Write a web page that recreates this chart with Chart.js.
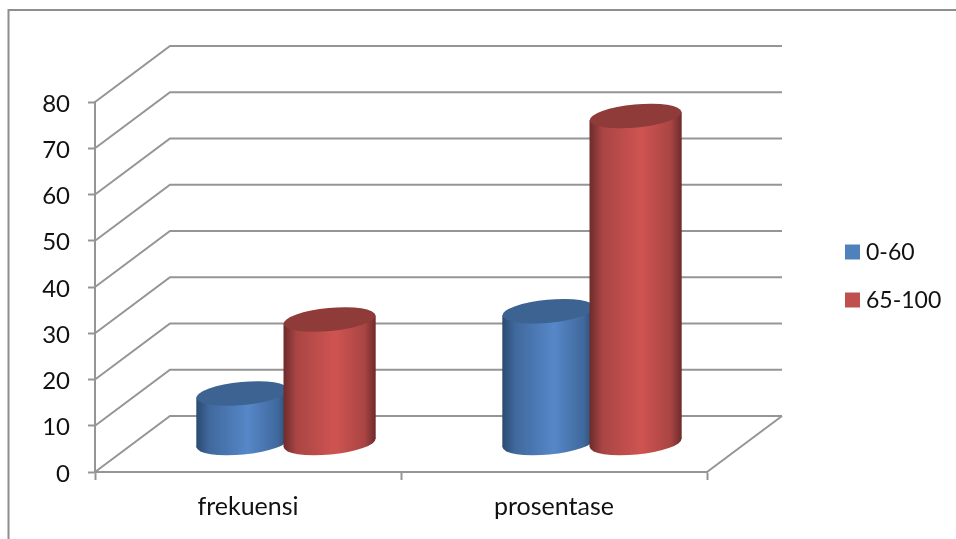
<!DOCTYPE html>
<html><head><meta charset="utf-8">
<style>html,body{margin:0;padding:0;background:#fff;overflow:hidden}canvas{display:block}</style>
<script src="https://cdn.jsdelivr.net/npm/chart.js@4"></script>
</head><body>
<div style="width:956px;height:539px;position:relative"><canvas id="c" width="956" height="539"></canvas></div>
<script>
const categories = ['frekuensi', 'prosentase'];
const seriesNames = ['0-60', '65-100'];
const values0to60 = [10.8, 28.6];
const values65to100 = [26.8, 70.8];
const yTicks = [0, 10, 20, 30, 40, 50, 60, 70, 80];

const FONT = 'Lato, Carlito, sans-serif';
const TXT = '#111111', LINE = '#959595';
const DEPTH = {dx: 75, dy: 56};
const BAR_DEPTH = {dx: 38, dy: 28.5};
const TILT = 5.4 * Math.PI / 180, RATIO = 0.25;
const palettes = [
  {edge:'#2b4a70', mid:'#40699d', hi:'#5687c8', top:'#3c6391', box:'#4f81bd'},
  {edge:'#6d2b2b', mid:'#a94544', hi:'#cf5451', top:'#8e3b39', box:'#c0504d'}
];

function cylinder(ctx, el, p) {
  const cx = el.x + BAR_DEPTH.dx, w = el.width, a = w / 2, b = a * RATIO;
  const yTop = el.y - BAR_DEPTH.dy, yBot = el.base - BAR_DEPTH.dy;
  const off = (a*a - b*b) * Math.sin(TILT) * Math.cos(TILT) / a;
  const g = ctx.createLinearGradient(cx - a, 0, cx + a, 0);
  g.addColorStop(0, p.edge); g.addColorStop(0.14, p.mid); g.addColorStop(0.56, p.hi);
  g.addColorStop(0.88, p.mid); g.addColorStop(1, p.edge);
  ctx.fillStyle = g;
  ctx.beginPath();
  ctx.ellipse(cx, yBot, a, b, -TILT, 0, Math.PI * 2);
  ctx.fill();
  ctx.beginPath();
  ctx.moveTo(cx - a, yTop + off); ctx.lineTo(cx + a, yTop - off);
  ctx.lineTo(cx + a, yBot - off); ctx.lineTo(cx - a, yBot + off);
  ctx.closePath(); ctx.fill();
  ctx.fillStyle = p.top;
  ctx.beginPath();
  ctx.ellipse(cx, yTop, a, b, -TILT, 0, Math.PI * 2);
  ctx.fill();
}

const scene3d = {
  id: 'scene3d',
  beforeDatasetsDraw(chart) {
    const {ctx, scales: {x, y}} = chart;
    ctx.save();
    ctx.strokeStyle = '#8e8e8e'; ctx.lineWidth = 2;
    ctx.beginPath();
    ctx.moveTo(8.5, 539); ctx.lineTo(8.5, 10); ctx.lineTo(956, 10);
    ctx.stroke();
    ctx.strokeStyle = LINE; ctx.lineWidth = 2;
    ctx.beginPath();
    yTicks.forEach(v => {
      const py = y.getPixelForValue(v);
      ctx.moveTo(x.left, py);
      ctx.lineTo(x.left + DEPTH.dx, py - DEPTH.dy);
      ctx.lineTo(x.right + DEPTH.dx, py - DEPTH.dy);
    });
    const y0 = y.getPixelForValue(0);
    ctx.moveTo(x.right + DEPTH.dx, y0 - DEPTH.dy);
    ctx.lineTo(x.right, y0);
    ctx.stroke();
    ctx.restore();
  },
  afterDatasetsDraw(chart) {
    const ctx = chart.ctx;
    ctx.save();
    chart.data.datasets.forEach((ds, i) => {
      chart.getDatasetMeta(i).data.forEach(el => cylinder(ctx, el, palettes[i]));
    });
    ctx.font = '23px ' + FONT;
    ctx.textBaseline = 'middle'; ctx.textAlign = 'left';
    const legendY = [252, 300];
    chart.data.datasets.forEach((ds, i) => {
      ctx.fillStyle = palettes[i].box;
      ctx.fillRect(845, legendY[i] - 7.5, 15, 15);
      ctx.fillStyle = TXT;
      ctx.fillText(ds.label, 866, legendY[i] + 1);
    });
    ctx.restore();
  }
};

new Chart(document.getElementById('c'), {
  type: 'bar',
  data: {
    labels: categories,
    datasets: [
      {label: seriesNames[0], data: values0to60, backgroundColor: 'rgba(0,0,0,0)'},
      {label: seriesNames[1], data: values65to100, backgroundColor: 'rgba(0,0,0,0)'}
    ]
  },
  options: {
    responsive: false, animation: false,
    categoryPercentage: 0.57, barPercentage: 1.057,
    layout: {padding: {left: 0, top: 102, right: 249, bottom: 0}},
    plugins: {legend: {display: false}, tooltip: {enabled: false}},
    scales: {
      x: {
        offset: true,
        grid: {offset: true, drawOnChartArea: false, drawTicks: true, tickLength: 8, tickWidth: 2, tickColor: LINE},
        border: {display: true, color: LINE, width: 2},
        ticks: {color: TXT, font: {family: FONT, size: 25}, padding: 12, maxRotation: 0},
        afterFit(s) { s.height = 67; }
      },
      y: {
        min: 0, max: 80,
        grid: {drawOnChartArea: false, drawTicks: true, tickLength: 7, tickWidth: 2, tickColor: LINE},
        border: {display: true, color: LINE, width: 2},
        afterBuildTicks(s) { s.ticks = yTicks.map(v => ({value: v})); },
        ticks: {color: TXT, font: {family: FONT, size: 24}, padding: 18, labelOffset: 2},
        afterFit(s) { s.width = 95; }
      }
    }
  },
  plugins: [scene3d]
});
</script>
</body></html>
